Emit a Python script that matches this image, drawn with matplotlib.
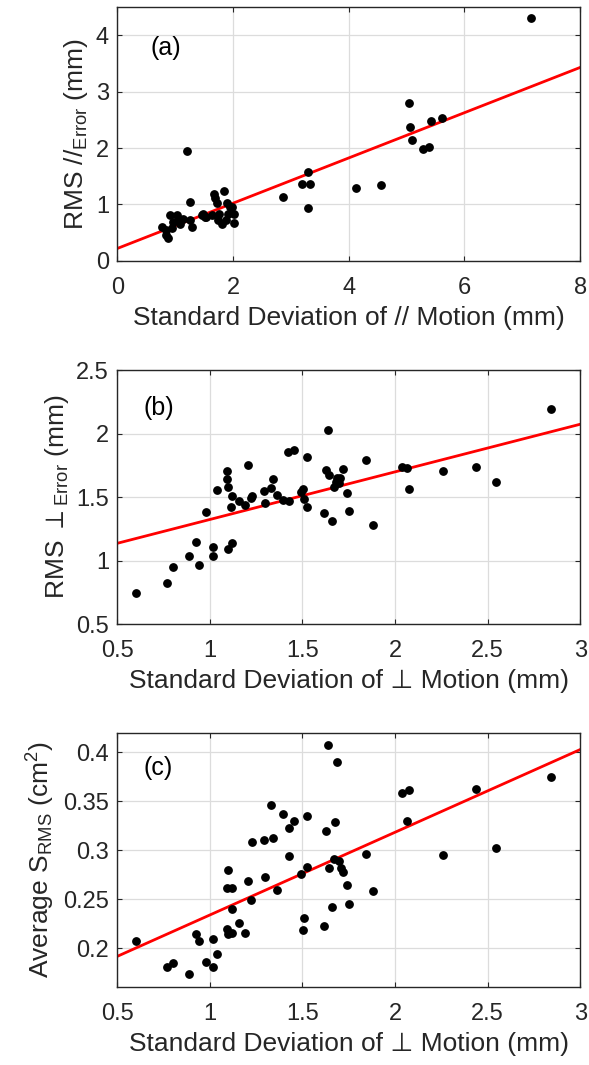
import numpy as np
import matplotlib
matplotlib.use("Agg")
import matplotlib.pyplot as plt

plt.rcParams['font.family'] = ['Liberation Sans', 'DejaVu Sans']
plt.rcParams['mathtext.fontset'] = 'custom'
plt.rcParams['mathtext.rm'] = 'Liberation Sans'
plt.rcParams['mathtext.it'] = 'Liberation Sans:italic'
plt.rcParams['mathtext.fallback'] = 'stixsans'

# ---------------- Panel (a) data ----------------
a_x = [7.15, 5.04, 5.06, 5.10, 5.42, 5.62, 5.29, 5.39, 1.21, 3.29, 3.19, 3.33, 3.29,
       2.87, 4.13, 4.55,
       1.85, 1.68, 1.69, 1.72, 1.89, 1.95, 2.02, 2.01, 1.81, 1.75, 1.76, 1.63, 1.46,
       1.52, 1.92, 1.88, 1.26, 1.29, 1.25, 1.14, 1.03, 0.91, 0.97, 1.08, 0.77, 0.85,
       0.87, 0.85, 0.94, 1.05, 1.54, 1.48, 1.98]
a_y = [4.30, 2.79, 2.38, 2.15, 2.48, 2.54, 1.98, 2.02, 1.94, 1.58, 1.37, 1.36, 0.93,
       1.14, 1.30, 1.35,
       1.24, 1.18, 1.11, 1.02, 1.02, 0.96, 0.84, 0.68, 0.66, 0.72, 0.84, 0.81, 0.82,
       0.78, 0.84, 0.72, 1.05, 0.60, 0.72, 0.75, 0.81, 0.81, 0.69, 0.66, 0.60, 0.55,
       0.40, 0.46, 0.58, 0.72, 0.78, 0.84, 0.96]
a_fit = (0.22, 0.401)   # intercept, slope

# ---------------- Panel (b) data ----------------
b_x = [0.601, 0.770, 0.803, 0.885, 0.925, 0.939, 0.981, 1.015, 1.017, 1.040, 1.094,
       1.091, 1.098, 1.118, 1.116, 1.098, 1.120, 1.156, 1.192, 1.208, 1.220, 1.229,
       1.291, 1.298, 1.329, 1.343, 1.361, 1.393, 1.429, 1.424, 1.456, 1.491, 1.501,
       1.509, 1.523, 1.525, 1.618, 1.626, 1.638, 1.642, 1.658, 1.671, 1.682, 1.689,
       1.703, 1.696, 1.718, 1.743, 1.750, 1.844, 1.883, 2.038, 2.063, 2.078, 2.258,
       2.436, 2.546, 2.841]
b_y = [0.741, 0.827, 0.950, 1.037, 1.149, 0.966, 1.380, 1.110, 1.037, 1.552, 1.709,
       1.644, 1.576, 1.505, 1.419, 1.089, 1.139, 1.469, 1.435, 1.749, 1.495, 1.510,
       1.550, 1.455, 1.568, 1.644, 1.513, 1.476, 1.466, 1.856, 1.874, 1.542, 1.560,
       1.484, 1.424, 1.812, 1.374, 1.717, 2.029, 1.673, 1.314, 1.576, 1.620, 1.654,
       1.654, 1.607, 1.725, 1.531, 1.390, 1.791, 1.280, 1.736, 1.728, 1.563, 1.709,
       1.736, 1.615, 2.196]
b_fit = (0.9485, 0.375)

# ---------------- Panel (c) data ----------------
c_x = [0.601, 0.770, 0.803, 0.885, 0.925, 0.939, 0.981, 1.015, 1.017, 1.040, 1.096,
       1.094, 1.118, 1.091, 1.098, 1.120, 1.118, 1.156, 1.192, 1.208, 1.220, 1.228,
       1.291, 1.298, 1.329, 1.343, 1.361, 1.393, 1.428, 1.429, 1.456, 1.492, 1.501,
       1.510, 1.523, 1.525, 1.618, 1.626, 1.638, 1.642, 1.658, 1.671, 1.678, 1.687,
       1.700, 1.709, 1.718, 1.743, 1.750, 1.844, 1.883, 2.038, 2.078, 2.063, 2.258,
       2.436, 2.546, 2.841]
c_y = [0.2071, 0.1803, 0.1851, 0.1739, 0.2146, 0.2068, 0.1858, 0.2095, 0.1807, 0.1942,
       0.2800, 0.2610, 0.2617, 0.2200, 0.2142, 0.2159, 0.2400, 0.2258, 0.2156, 0.2685,
       0.2488, 0.3085, 0.3102, 0.2725, 0.3461, 0.3122, 0.2597, 0.3366, 0.3231, 0.2936,
       0.3302, 0.2753, 0.2183, 0.2305, 0.2831, 0.3346, 0.2227, 0.3200, 0.4071, 0.2814,
       0.2424, 0.2915, 0.3285, 0.3902, 0.2888, 0.2814, 0.2773, 0.2647, 0.2454, 0.2966,
       0.2580, 0.3580, 0.3610, 0.3298, 0.2949, 0.3627, 0.3027, 0.3746]
c_fit = (0.1493, 0.0845)

panels = [
    dict(x=a_x, y=a_y, fit=a_fit, xlim=(0, 8), ylim=(0, 4.5),
         xticks=[0, 2, 4, 6, 8], yticks=[0, 1, 2, 3, 4],
         xticklabels=['0', '2', '4', '6', '8'], yticklabels=['0', '1', '2', '3', '4'],
         xlabel='Standard Deviation of // Motion (mm)',
         ylabel='RMS //$_{\\mathrm{Error}}$ (mm)', tag='(a)', tagpos=(0.072, 0.84),
         rect=[0.199, 0.755, 0.786, 0.2385]),
    dict(x=b_x, y=b_y, fit=b_fit, xlim=(0.5, 3), ylim=(0.5, 2.5),
         xticks=[0.5, 1, 1.5, 2, 2.5, 3], yticks=[0.5, 1, 1.5, 2, 2.5],
         xticklabels=['0.5', '1', '1.5', '2', '2.5', '3'],
         yticklabels=['0.5', '1', '1.5', '2', '2.5'],
         xlabel='Standard Deviation of \u22a5 Motion (mm)',
         ylabel='RMS ${\\perp}_{\\mathrm{Error}}$ (mm)', tag='(b)', tagpos=(0.056, 0.85),
         rect=[0.199, 0.414, 0.786, 0.2385]),
    dict(x=c_x, y=c_y, fit=c_fit, xlim=(0.5, 3), ylim=(0.16, 0.42),
         xticks=[0.5, 1, 1.5, 2, 2.5, 3], yticks=[0.2, 0.25, 0.3, 0.35, 0.4],
         xticklabels=['0.5', '1', '1.5', '2', '2.5', '3'],
         yticklabels=['0.2', '0.25', '0.3', '0.35', '0.4'],
         xlabel='Standard Deviation of \u22a5 Motion (mm)',
         ylabel='Average S$_{\\mathrm{RMS}}$ (cm$^{2}$)', tag='(c)', tagpos=(0.056, 0.861),
         rect=[0.199, 0.073, 0.786, 0.239]),
]

fig = plt.figure(figsize=(5.89, 10.65), dpi=100)
dark = '#262626'
for p in panels:
    ax = fig.add_axes(p['rect'])
    ax.set_xlim(*p['xlim'])
    ax.set_ylim(*p['ylim'])
    ax.set_xticks(p['xticks'])
    ax.set_yticks(p['yticks'])
    ax.set_xticklabels(p['xticklabels'])
    ax.set_yticklabels(p['yticklabels'])
    ax.grid(True, color='#dcdcdc', lw=0.9)
    ax.set_axisbelow(True)
    xs = np.linspace(p['xlim'][0], p['xlim'][1], 2)
    b0, b1 = p['fit']
    ax.plot(xs, b0 + b1 * xs, color='#ff0000', lw=2.0, zorder=2)
    ax.plot(p['x'], p['y'], 'o', color='black', ms=5.3, mec='black', zorder=3)
    ax.tick_params(direction='in', top=True, right=True, length=3.6, width=0.8,
                   color=dark, labelcolor=dark, labelsize=17)
    ax.tick_params(axis='x', pad=11.5)
    ax.tick_params(axis='y', pad=6)
    for s in ax.spines.values():
        s.set_color(dark)
        s.set_linewidth(1.0)
    ax.set_xlabel(p['xlabel'], fontsize=19, color=dark, labelpad=5)
    ax.set_ylabel(p['ylabel'], fontsize=19, color=dark, labelpad=4)
    ax.text(p['tagpos'][0], p['tagpos'][1], p['tag'], transform=ax.transAxes,
            fontsize=18, color='black', va='center', ha='left')

fig.savefig('out.png', dpi=100)
